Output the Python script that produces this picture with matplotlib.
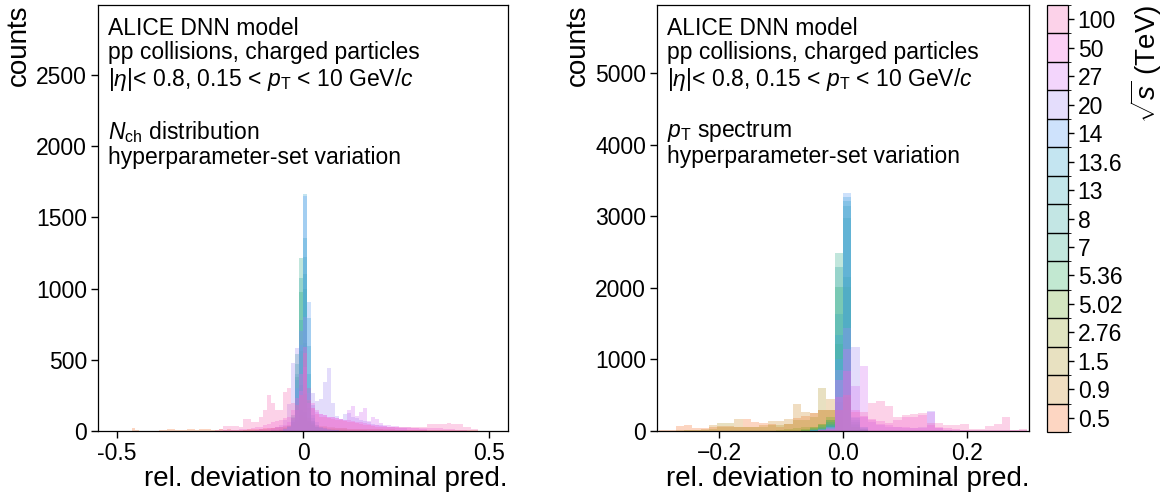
import numpy as np
import matplotlib
matplotlib.use("Agg")
import matplotlib.pyplot as plt
from matplotlib.colors import ListedColormap, BoundaryNorm, to_rgb
import matplotlib.cm as cm
import seaborn as sns

plt.rcParams['font.family'] = ['Liberation Sans', 'DejaVu Sans']
plt.rcParams['mathtext.fontset'] = 'custom'
plt.rcParams['mathtext.rm'] = 'Liberation Sans'
plt.rcParams['mathtext.it'] = 'Liberation Sans:italic'
plt.rcParams['mathtext.bf'] = 'Liberation Sans:bold'

# ---------------- data ----------------
energies = ["0.5", "0.9", "1.5", "2.76", "5.02", "5.36", "7", "8",
            "13", "13.6", "14", "20", "27", "50", "100"]

# N_ch panel: bin width and, per energy, first bin index k (bin spans [k*w,(k+1)*w]) + counts
nch_bin_width = 0.0107
nch_0_5 = (-43, [19, 10, 3, 0, 0, 0, 3, 5, 10, 14, 12, 6, 8, 5, 14, 12, 5, 14, 14, 12, 10, 8,
                 12, 10, 12, 8, 10, 8, 10, 12, 12, 15, 15, 18, 20, 22, 25, 28, 30, 35, 40, 45, 55,
                 50, 40, 35, 30, 28, 25, 22, 20, 20, 18, 18, 16, 15, 15, 14, 14, 13, 12, 12, 12,
                 12, 11, 11, 10, 10, 10, 10, 10, 10, 10, 10, 9, 9, 9, 9, 9, 9, 9, 8, 8, 8, 8, 7, 5])
nch_0_9 = (-15, [5, 6, 8, 10, 12, 14, 16, 20, 24, 28, 35, 45, 60, 80, 110, 95, 70, 55, 45, 38,
                 32, 28, 25, 22, 20, 18, 17, 16, 15, 14, 13, 12, 12, 11, 11, 10, 10, 9, 9, 8, 8,
                 7, 7, 6, 6, 5])
nch_1_5 = (-8, [8, 10, 14, 20, 28, 40, 70, 150, 130, 60, 40, 30, 25, 20, 17, 15, 13, 12, 11, 10,
                9, 8, 7, 6])
nch_2_76 = (-6, [10, 18, 30, 60, 150, 320, 260, 90, 45, 30, 22, 18, 14, 12, 10, 8, 6])
nch_5_02 = (-5, [15, 25, 60, 220, 560, 620, 160, 50, 25, 18, 14, 10, 8, 6])
nch_5_36 = (-5, [15, 30, 90, 380, 978, 1000, 210, 60, 28, 20, 15, 10, 8, 6])
nch_7 = (-5, [15, 35, 110, 540, 1214, 1100, 300, 70, 30, 20, 15, 10, 8, 6])
nch_8 = (-5, [15, 35, 100, 470, 1072, 1220, 400, 70, 30, 20, 15, 10, 8, 6])
nch_13 = (-5, [12, 30, 90, 400, 779, 1352, 600, 90, 35, 22, 15, 10, 8, 6])
nch_13_6 = (-5, [12, 30, 80, 360, 700, 1660, 791, 110, 40, 25, 18, 12, 9, 6])
nch_14 = (-5, [12, 30, 70, 300, 604, 1650, 908, 180, 60, 30, 20, 14, 10, 7])
nch_20 = (-8, [15, 25, 40, 80, 190, 475, 580, 700, 800, 264, 269, 211, 222, 346, 442, 199, 105,
               82, 119, 124, 100, 90, 80, 70, 60, 50, 45, 40, 35, 30, 25, 22, 20, 18])
nch_27 = (-12, [10, 12, 15, 18, 22, 26, 30, 40, 60, 90, 150, 280, 450, 200, 160, 130, 120, 110,
                100, 95, 90, 85, 80, 147, 175, 105, 136, 159, 72, 96, 82, 54, 45, 40, 36, 33, 30,
                28, 26, 24, 20, 16, 12])
nch_50 = (-20, [5, 6, 8, 10, 12, 14, 16, 20, 25, 30, 40, 50, 60, 70, 80, 90, 100, 147, 230, 400,
                590, 300, 200, 150, 120, 110, 100, 95, 90, 85, 80, 75, 70, 65, 60, 55, 50, 45, 40,
                36, 32, 30, 28, 26, 24, 22, 20, 20, 20, 20, 20, 20, 20, 20, 18, 16, 14, 12, 10, 8, 5])
nch_100 = (-22, [5, 12, 35, 35, 35, 35, 26, 87, 87, 66, 66, 96, 147, 253, 200, 147, 147, 271, 300,
                 200, 180, 250, 550, 220, 160, 120, 100, 95, 90, 85, 80, 75, 70, 65, 60, 55, 50,
                 45, 40, 35, 30, 28, 26, 26, 26, 26, 30, 30, 30, 30, 30, 30, 30, 49, 49, 49, 49,
                 49, 58, 47, 47, 47, 30, 30, 12, 12])

# pT panel
pt_bin_width = 0.0135
pt_0_5 = (-22, [15, 15, 70, 85, 42, 42, 60, 75, 70, 50, 170, 127, 110, 100, 60, 95, 180, 210, 250,
                295, 300, 100, 20, 10, 8, 5])
pt_0_9 = (-22, [5, 5, 10, 10, 20, 30, 80, 60, 60, 170, 60, 60, 80, 140, 140, 170, 380, 267, 258,
                300, 450, 200])
pt_1_5 = (-20, [5, 10, 15, 20, 30, 113, 113, 60, 50, 50, 50, 80, 80, 100, 150, 150, 200, 605, 300, 300])
pt_2_76 = (-8, [20, 30, 40, 50, 60, 100, 150, 400, 474, 50])
pt_5_02 = (-5, [30, 60, 100, 200, 1210, 2006, 60, 20])
pt_5_36 = (-5, [20, 40, 80, 150, 2007, 2147, 80, 25])
pt_7 = (-4, [30, 60, 120, 2490, 2976, 100, 30])
pt_8 = (-4, [20, 40, 100, 2290, 3145, 120, 30])
pt_13 = (-4, [15, 30, 80, 1630, 3210, 150, 40])
pt_13_6 = (-4, [10, 25, 70, 1336, 3270, 180, 50])
pt_14 = (-4, [10, 20, 60, 1000, 3318, 200, 60])
pt_20 = (-3, [30, 50, 858, 1444, 1172, 200, 120, 80, 60, 50, 40, 40, 50, 277, 40, 20])
pt_27 = (-3, [20, 40, 708, 1149, 624, 905, 150, 100, 80, 60, 50, 40, 40, 260, 40, 20, 15, 10])
pt_50 = (-3, [10, 30, 474, 834, 295, 211, 164, 141, 117, 155, 200, 200, 230, 80, 60, 40, 30, 20,
              15, 10, 10, 10, 10, 10, 10])
pt_100 = (-3, [10, 20, 300, 500, 272, 272, 389, 413, 352, 192, 225, 239, 248, 113, 113, 84, 84,
               98, 28, 28, 70, 98, 197, 14, 28])

nch_series = [nch_0_5, nch_0_9, nch_1_5, nch_2_76, nch_5_02, nch_5_36, nch_7, nch_8,
              nch_13, nch_13_6, nch_14, nch_20, nch_27, nch_50, nch_100]
pt_series = [pt_0_5, pt_0_9, pt_1_5, pt_2_76, pt_5_02, pt_5_36, pt_7, pt_8,
             pt_13, pt_13_6, pt_14, pt_20, pt_27, pt_50, pt_100]

header = ("ALICE DNN model\npp collisions, charged particles\n"
          r"$|\eta|$< 0.8, 0.15 < $p_{\mathrm{T}}$ < 10 GeV/$c$")
nch_text = header + "\n\n" + r"$N_{\mathrm{ch}}$ distribution" + "\nhyperparameter-set variation"
pt_text = header + "\n\n" + r"$p_{\mathrm{T}}$ spectrum" + "\nhyperparameter-set variation"

# ---------------- styling ----------------
alpha = 0.3
palette = sns.husl_palette(16)[1:]
FS_TICK = 16.5
FS_TEXT = 16.5
FS_LABEL = 20

W, H = 1167, 495
fig = plt.figure(figsize=(W / 100, H / 100), dpi=100)
ax1 = fig.add_axes([98 / W, 1 - 431 / H, 410 / W, 426 / H])
ax2 = fig.add_axes([657 / W, 1 - 431 / H, 372 / W, 426 / H])
cax = fig.add_axes([1047 / W, 1 - 432 / H, 21 / W, 427 / H])


def draw(ax, series, width):
    for (start, counts), col in zip(series, palette):
        counts = np.asarray(counts, dtype=float)
        edges = (start + np.arange(len(counts) + 1)) * width
        centers = 0.5 * (edges[:-1] + edges[1:])
        ax.hist(centers, bins=edges, weights=counts, color=col, alpha=alpha,
                histtype='bar', rwidth=1.0, linewidth=0)


draw(ax1, nch_series, nch_bin_width)
draw(ax2, pt_series, pt_bin_width)

ax1.set_xlim(-0.55, 0.55)
ax1.set_ylim(0, 2990)
ax1.set_xticks([-0.5, 0, 0.5])
ax1.set_xticklabels(["-0.5", "0", "0.5"])
ax1.set_yticks([0, 500, 1000, 1500, 2000, 2500])

ax2.set_xlim(-0.3, 0.3)
ax2.set_ylim(0, 5950)
ax2.set_xticks([-0.2, 0.0, 0.2])
ax2.set_xticklabels(["\u22120.2", "0.0", "0.2"])
ax2.set_yticks([0, 1000, 2000, 3000, 4000, 5000])

for ax, txt in [(ax1, nch_text), (ax2, pt_text)]:
    ax.tick_params(labelsize=FS_TICK, length=5, width=1, direction='out', pad=3)
    for s in ax.spines.values():
        s.set_linewidth(0.9)
    ax.set_ylabel("counts", fontsize=FS_LABEL, loc='top', labelpad=3)
    ax.set_xlabel("rel. deviation to nominal pred.", fontsize=FS_LABEL, loc='right', labelpad=1)
    ax.annotate(txt, xy=(0, 1), xycoords='axes fraction', xytext=(10, -12),
                textcoords='offset pixels', ha='left', va='top', fontsize=FS_TEXT,
                linespacing=1.08)

# colorbar with discrete energy bins
blended = [tuple(alpha * np.array(to_rgb(c)) + (1 - alpha)) for c in palette]
cmap = ListedColormap(blended)
norm = BoundaryNorm(np.arange(len(energies) + 1) - 0.5, len(energies))
sm = cm.ScalarMappable(norm=norm, cmap=cmap)
cb = fig.colorbar(sm, cax=cax, drawedges=True, ticks=np.arange(len(energies)))
cb.ax.set_yticklabels(energies)
cb.ax.tick_params(labelsize=FS_TICK, length=4, width=1, pad=3)
cb.dividers.set_linewidth(1.0)
cb.outline.set_linewidth(0.9)
cb.set_label(r"$\sqrt{s}$ (TeV)", fontsize=FS_LABEL, loc='top')

fig.savefig("out.png", dpi=100)
